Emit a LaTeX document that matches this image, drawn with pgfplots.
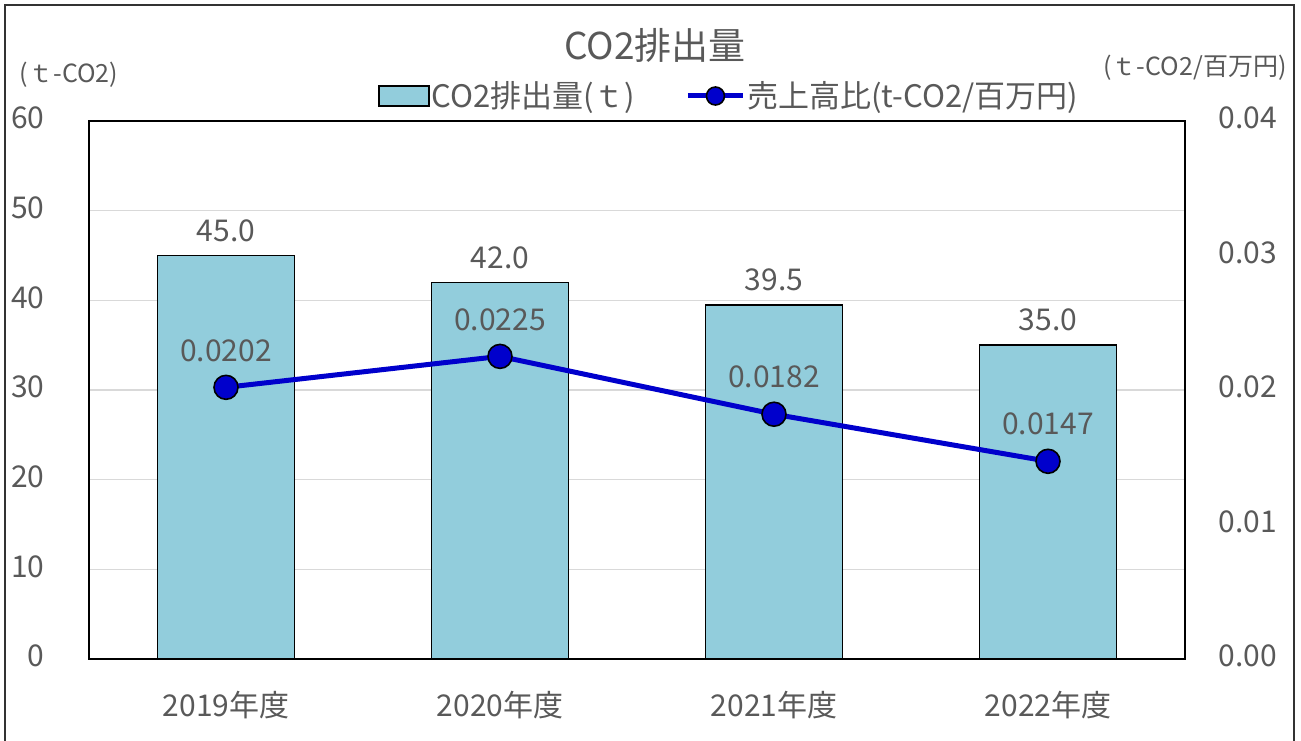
\documentclass[border=0pt]{standalone}
\usepackage{fontspec}
\setmainfont{Noto Sans CJK JP}
\usepackage{pgfplots}
\pgfplotsset{compat=1.18}
\definecolor{txt}{HTML}{595959}
\definecolor{barc}{HTML}{92CDDC}
\definecolor{linec}{HTML}{0000CC}
\definecolor{gridc}{HTML}{D9D9D9}
\begin{document}
\begin{tikzpicture}[x=0.5pt,y=0.5pt]
\useasboundingbox (-89,-81) rectangle (1212,659);
\draw[black!80, line width=1pt] (-84,-90) -- (-84,654) -- (1205,654) -- (1205,-90);
\begin{axis}[
  at={(0,0)}, anchor=south west,
  scale only axis, width=548pt, height=269pt,
  xmin=-0.5, xmax=3.5, ymin=0, ymax=60,
  xtick={0,1,2,3},
  xticklabels={2019年度,2020年度,2021年度,2022年度},
  ytick={0,10,...,60},
  major tick length=0pt,
  ymajorgrids, grid style={gridc, line width=0.8pt},
  axis line style={black, line width=1pt},
  tick label style={font=\fontsize{15}{18}\selectfont, text=txt},
  /pgf/number format/assume math mode=true,
  yticklabel style={anchor=east, inner sep=0pt, xshift=-22pt, yshift=1.5pt},
  xticklabel style={anchor=center, inner sep=0pt, yshift=-23pt},
  nodes near coords,
  nodes near coords style={font=\fontsize{15}{18}\selectfont, text=txt, anchor=center, yshift=12.5pt,
    /pgf/number format/.cd, fixed, fixed zerofill, precision=1, assume math mode=true},
]
\addplot[ybar, bar width=0.5, fill=barc, draw=black, line width=0.75pt]
  coordinates {(0,45.0) (1,42.0) (2,39.5) (3,35.0)};
\end{axis}
\begin{axis}[
  at={(0,0)}, anchor=south west,
  scale only axis, width=548pt, height=269pt,
  xmin=-0.5, xmax=3.5, ymin=0, ymax=0.04,
  axis x line=none, axis y line*=right,
  y axis line style={draw=none},
  ytick={0,0.01,0.02,0.03,0.04},
  major tick length=0pt,
  tick label style={font=\fontsize{15}{18}\selectfont, text=txt},
  yticklabel style={anchor=west, inner sep=0pt, xshift=16.5pt, yshift=1.5pt,
    /pgf/number format/.cd, fixed, fixed zerofill, precision=2, assume math mode=true},
  scaled y ticks=false,
  nodes near coords,
  nodes near coords style={font=\fontsize{15}{18}\selectfont, text=txt, anchor=center, yshift=18.5pt,
    /pgf/number format/.cd, fixed, fixed zerofill, precision=4, assume math mode=true},
  legend style={draw=none, fill=none, at={(0.584,1.0465)}, anchor=center,
    legend columns=2, font=\fontsize{15.5}{18}\selectfont, text=txt,
    nodes={inner sep=1pt},
    /tikz/every even column/.append style={column sep=24pt}},
  legend cell align=left,
]
\addlegendimage{legend image code/.code={\draw[fill=barc, draw=black, line width=0.75pt] (0pt,-5pt) rectangle (25pt,5pt);}}
\addlegendentry{CO2排出量(ｔ)}
\addplot[color=linec, line width=2.5pt, mark=*, mark size=6pt,
  mark options={fill=linec, draw=black, line width=0.8pt},
  legend image code/.code={\draw[linec, line width=2.5pt] (0pt,0pt) -- (27.5pt,0pt);
     \draw[fill=linec, draw=black, line width=0.8pt] (13.75pt,0pt) circle (4.5pt);}]
  coordinates {(0,0.0202) (1,0.0225) (2,0.0182) (3,0.0147)};
\addlegendentry{売上高比(t-CO2/百万円)}
\end{axis}
\node[text=txt, font=\fontsize{18.5}{21}\selectfont] at (566,614) {CO2排出量};
\node[text=txt, font=\fontsize{12.5}{14}\selectfont] at (-20,584) {(ｔ-CO2)};
\node[text=txt, font=\fontsize{12.5}{14}\selectfont] at (1106,591) {(ｔ-CO2/百万円)};
\end{tikzpicture}
\end{document}
